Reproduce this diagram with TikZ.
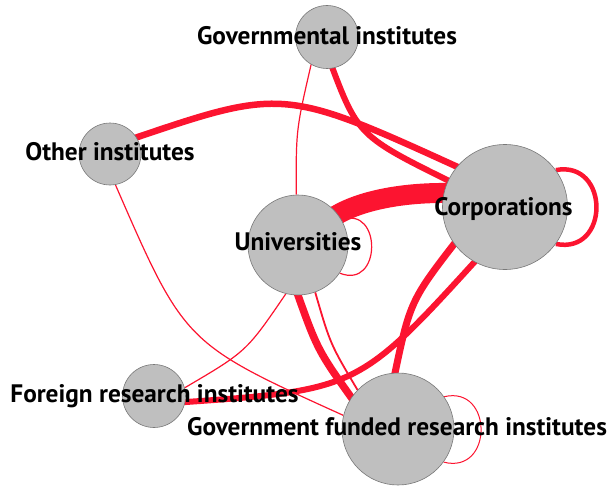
\documentclass[tikz,border=0pt]{standalone}
\usepackage{fontspec}
\setmainfont{PT Sans}
\pgfdeclarelayer{background}
\pgfsetlayers{background,main}
\definecolor{edgered}{RGB}{252,20,48}
\definecolor{nodegray}{RGB}{191,191,191}
\definecolor{nodeborder}{RGB}{120,120,120}
\tikzset{
  actor/.style={circle, fill=nodegray, draw=nodeborder, line width=0.6pt, inner sep=0pt},
  lbl/.style={anchor=base, inner sep=0pt, font=\fontsize{25.3}{29}\selectfont\bfseries},
  edge/.style={draw=edgered, shorten <=-8pt, shorten >=-8pt},
  thinedge/.style={draw=edgered, line width=1.2pt},
}
\begin{document}
\begin{tikzpicture}[x=1pt, y=-1pt]
\useasboundingbox (0,0) rectangle (610,487);
% nodes
\node[actor, minimum size=63pt]  (g) at (327,37)  {};
\node[actor, minimum size=62pt]  (o) at (110,154) {};
\node[actor, minimum size=125pt] (c) at (505,207) {};
\node[actor, minimum size=100pt] (u) at (298,245) {};
\node[actor, minimum size=63pt]  (f) at (154,396) {};
\node[actor, minimum size=112pt] (r) at (398,429) {};
% labels
\node[lbl] (gl) at (327,44.3)  {Governmental institutes};
\node[lbl] (ol) at (110,160.5) {Other institutes};
\node[lbl] (cl) at (503.5,215) {Corporations};
\node[lbl] (ul) at (298,250)   {Universities};
\node[lbl] (fl) at (154.5,402) {Foreign research institutes};
\node[lbl] (rl) at (397,435)   {Government funded research institutes};
% edges
\begin{pgfonlayer}{background}
\draw[edge, line width=20pt] (u.38) .. controls (358,200) and (405,192) .. (c.167);
\draw[edge, line width=6pt] (g.-80) .. controls (358,136) .. (c.155);
\draw[edge, line width=6.5pt] (o.32) .. controls (283.5,87.5) .. (c.140);
\draw[thinedge] (g.-120) .. controls (296,130) .. (u.92);
\draw[thinedge] (o.-80) .. controls (184.5,343.4) .. (r.166);
\draw[thinedge] (u.-104) .. controls (246.5,351.5) .. (f.15);
\draw[edge, line width=7.5pt] (u.-90) .. controls (317.5,350.3) .. (r.146);
\draw[thinedge, line width=1.8pt] (u.-70) .. controls (330.3,344.2) .. (r.136);
\draw[edge, line width=7pt] (r.93) .. controls (410,301) .. (c.216);
\draw[edge, line width=6pt] (f.-11) .. controls (358,390) .. (c.241);
% self loops
\draw[edge, line width=4.5pt, shorten <=0pt, shorten >=0pt] (c.36) .. controls (610,160) and (610,255) .. (c.-36);
\draw[thinedge] (u.30) .. controls (382,205) and (382,290) .. (u.-34);
\draw[thinedge, line width=1pt] (r.35) .. controls (493.5,385) and (493.5,475) .. (r.-36);
\end{pgfonlayer}
\end{tikzpicture}
\end{document}
